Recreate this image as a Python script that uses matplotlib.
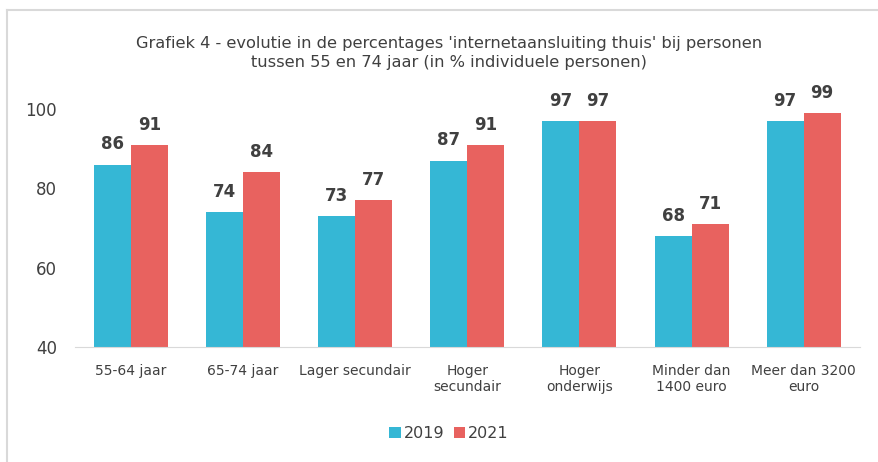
import numpy as np
import matplotlib
matplotlib.use("Agg")
import matplotlib.pyplot as plt
from matplotlib.lines import Line2D

categories = ["55-64 jaar", "65-74 jaar", "Lager secundair", "Hoger\nsecundair",
              "Hoger\nonderwijs", "Minder dan\n1400 euro", "Meer dan 3200\neuro"]
values_2019 = [86, 74, 73, 87, 97, 68, 97]
values_2021 = [91, 84, 77, 91, 97, 71, 99]
series_names = ["2019", "2021"]

blue = "#35B7D5"
red = "#E8625F"
txt = "#404040"

fig = plt.figure(figsize=(8.79, 4.62), dpi=100)
ax = fig.add_axes([0.0853, 0.249, 0.8927, 0.515])

x = np.arange(len(categories))
w = 0.33
b1 = ax.bar(x - w / 2, values_2019, w, color=blue, label=series_names[0])
b2 = ax.bar(x + w / 2, values_2021, w, color=red, label=series_names[1])

# value labels above the bars
for bars, vals in ((b1, values_2019), (b2, values_2021)):
    for r, v in zip(bars, vals):
        ax.annotate(str(v), (r.get_x() + r.get_width() / 2, v), xytext=(0, 8),
                    textcoords="offset points", ha="center", va="bottom",
                    fontsize=12, fontweight="bold", color=txt, annotation_clip=False)

ax.set_ylim(40, 100)
ax.set_xlim(-0.5, len(categories) - 0.5)
ax.set_yticks([40, 60, 80, 100])
ax.set_xticks(x)
ax.set_xticklabels(categories, fontsize=10, color=txt)
ax.tick_params(axis="y", length=0, pad=13, labelsize=12, labelcolor=txt)
ax.tick_params(axis="x", length=0, pad=12)
for s in ["top", "right", "left"]:
    ax.spines[s].set_visible(False)
ax.spines["bottom"].set_color("#D9D9D9")

fig.text(0.511, 0.885, "Grafiek 4 - evolutie in de percentages 'internetaansluiting thuis' bij personen\n"
         "tussen 55 en 74 jaar (in % individuele personen)",
         ha="center", va="center", fontsize=11.7, color=txt, linespacing=1.3)

fig.legend(handles=[b1, b2], labels=series_names, loc="center", bbox_to_anchor=(0.511, 0.062),
           ncol=2, frameon=False, fontsize=11.5, handlelength=0.7, handleheight=0.7,
           handletextpad=0.2, columnspacing=0.6, labelcolor=txt)

# outer chart border
fig.add_artist(Line2D([0.008, 0.008], [0.0, 0.978], color="#D9D9D9", lw=1.5, transform=fig.transFigure))
fig.add_artist(Line2D([0.008, 1.0], [0.978, 0.978], color="#D9D9D9", lw=1.5, transform=fig.transFigure))

plt.savefig("out.png", dpi=100)
plt.close()
